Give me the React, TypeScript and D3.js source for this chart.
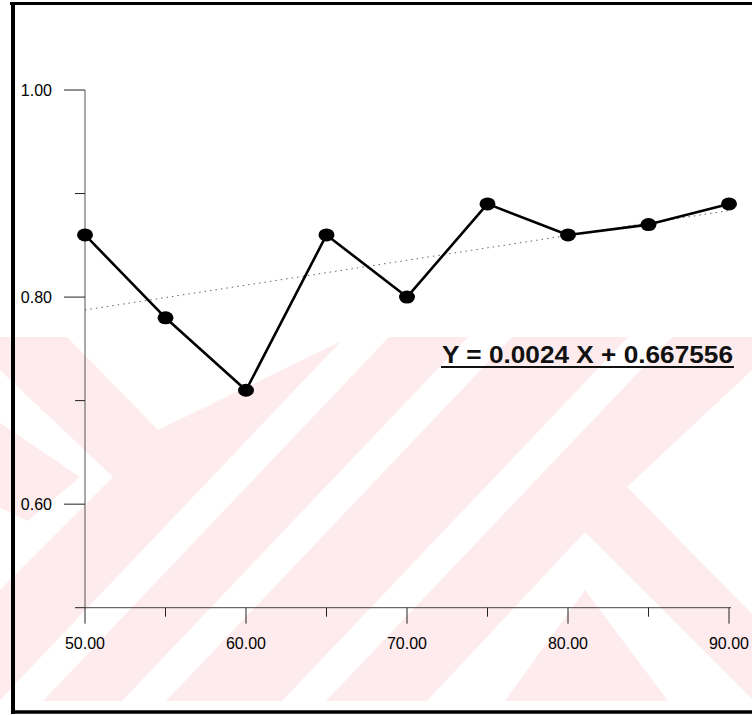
import React from "react";
import * as d3 from "d3";

// Series: ratio measured at each x level
const xValues = [50, 55, 60, 65, 70, 75, 80, 85, 90];
const yValues = [0.86, 0.78, 0.71, 0.86, 0.8, 0.89, 0.86, 0.87, 0.89];

// Axis ticks
const xTickMajor = [50, 60, 70, 80, 90];
const xTickMinor = [55, 65, 75, 85];
const yTickMajor = [1.0, 0.8, 0.6];
const yTickMinor = [0.9, 0.7, 0.5];

// Fitted trend line
const slope = 0.0024;
const intercept = 0.667556;
const equationLabel = "Y = 0.0024 X + 0.667556";

const W = 752;
const H = 715;
const FONT = "'Liberation Sans', Arial, Helvetica, sans-serif";
const PINK = "#fdebee";

// Background stamp shapes (decorative), painted in order
const stampLayers: { fill: "w" | "p"; pts: [number, number][] }[] = [
  { fill: "w", pts: [[67, 337], [158, 430], [350, 337]] },
  { fill: "w", pts: [[-1, 701], [43, 701], [389, 337], [345, 337]] },
  { fill: "w", pts: [[122, 701], [166, 701], [512, 337], [468, 337]] },
  { fill: "w", pts: [[282, 701], [326, 701], [672, 337], [628, 337]] },
  { fill: "w", pts: [[0, 370], [113, 477], [0, 590]] },
  { fill: "p", pts: [[0, 423], [80, 477], [0, 544]] },
  { fill: "w", pts: [[0, 508], [47, 530], [0, 552]] },
  { fill: "w", pts: [[627, 487], [752, 370], [752, 614]] },
  { fill: "w", pts: [[585, 532], [752, 699], [752, 701], [427, 701]] },
  { fill: "p", pts: [[585, 590], [668, 701], [505, 701]] },
];

export default function App() {
  const x = d3.scaleLinear().domain([50, 90]).range([85, 729]);
  const y = d3.scaleLinear().domain([0.5, 1.0]).range([607.7, 90]);

  const pts = xValues.map((v, i) => [v, yValues[i]] as [number, number]);
  const line = d3
    .line<[number, number]>()
    .x((d) => x(d[0]))
    .y((d) => y(d[1]));

  const [x0, x1] = x.domain();
  const trend: [number, number][] = [
    [x0, slope * x0 + intercept],
    [x1, slope * x1 + intercept],
  ];

  const poly = (p: [number, number][]) => p.map((q) => q.join(",")).join(" ");

  return (
    <svg
      width={W}
      height={H}
      style={{ position: "absolute", left: 0, top: 0, background: "#fff" }}
    >
      <rect x={0} y={0} width={W} height={H} fill="#fff" />
      {/* stamp */}
      <g>
        <rect x={0} y={337} width={W} height={364} fill={PINK} />
        {stampLayers.map((s, i) => (
          <polygon key={"s" + i} points={poly(s.pts)} fill={s.fill === "w" ? "#fff" : PINK} />
        ))}
      </g>

      {/* frame */}
      <line x1={10} y1={3.5} x2={W} y2={3.5} stroke="#000" strokeWidth={3} />
      <line x1={13} y1={2} x2={13} y2={714} stroke="#000" strokeWidth={4} />
      <line x1={11} y1={712} x2={W} y2={712} stroke="#000" strokeWidth={3.5} />

      {/* y axis */}
      <line x1={x(50)} y1={y(1.0)} x2={x(50)} y2={y(0.5)} stroke="#555" strokeWidth={1} />
      {yTickMajor.map((t) => (
        <g key={"ym" + t}>
          <line x1={x(50) - 21} x2={x(50)} y1={y(t)} y2={y(t)} stroke="#222" strokeWidth={1} />
          <text
            x={52}
            y={y(t)}
            dy="0.35em"
            textAnchor="end"
            fontFamily={FONT}
            fontSize={16}
            fill="#000"
          >
            {t.toFixed(2)}
          </text>
        </g>
      ))}
      {yTickMinor.map((t) => (
        <line key={"yn" + t} x1={x(50) - 10} x2={x(50)} y1={y(t)} y2={y(t)} stroke="#222" strokeWidth={1} />
      ))}

      {/* x axis */}
      <line x1={x(50)} y1={y(0.5)} x2={x(90) + 2} y2={y(0.5)} stroke="#444" strokeWidth={1} />
      {xTickMajor.map((t) => (
        <g key={"xm" + t}>
          <line x1={x(t)} x2={x(t)} y1={y(0.5)} y2={y(0.5) + 16} stroke="#222" strokeWidth={1} />
          <text
            x={x(t)}
            y={643}
            dy="0.35em"
            textAnchor="middle"
            fontFamily={FONT}
            fontSize={16}
            fill="#000"
          >
            {t.toFixed(2)}
          </text>
        </g>
      ))}
      {xTickMinor.map((t) => (
        <line key={"xn" + t} x1={x(t)} x2={x(t)} y1={y(0.5)} y2={y(0.5) + 9} stroke="#222" strokeWidth={1} />
      ))}

      {/* trend line */}
      <path
        d={line(trend) ?? ""}
        fill="none"
        stroke="#666"
        strokeWidth={1}
        strokeDasharray="1.5 4"
      />

      {/* series */}
      <path d={line(pts) ?? ""} fill="none" stroke="#000" strokeWidth={2.6} strokeLinejoin="round" />
      {pts.map((d, i) => (
        <ellipse key={"pt" + i} cx={x(d[0])} cy={y(d[1])} rx={8} ry={6.5} fill="#000" />
      ))}

      {/* equation */}
      <text
        x={442}
        y={363}
        fontFamily={FONT}
        fontWeight="bold"
        fontSize={23.5}
        fill="#111"
        textLength={291}
        lengthAdjust="spacingAndGlyphs"
      >
        {equationLabel}
      </text>
      <line x1={441} x2={734} y1={367} y2={367} stroke="#111" strokeWidth={2} />
    </svg>
  );
}
